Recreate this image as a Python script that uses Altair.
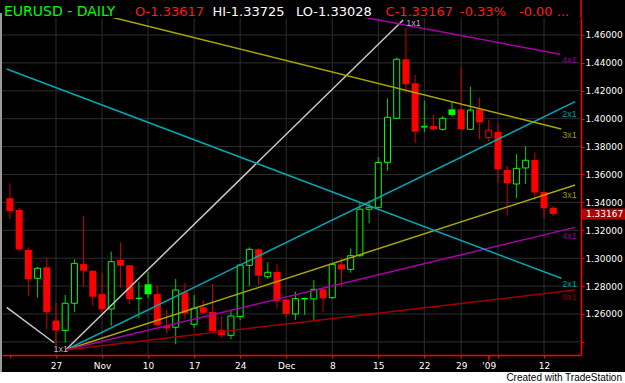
import altair as alt
import pandas as pd

# ---------------- data ----------------
# daily bars, index 0 = Mon Oct 20 2008 ... index 59 = Tue Jan 13 2009
opens = [1.3429, 1.3346, 1.3059, 1.2856, 1.2935, 1.2553, 1.2482, 1.2677, 1.2958, 1.2910,
         1.2743, 1.2636, 1.2987, 1.2949, 1.2710, 1.2813, 1.2743, 1.2514, 1.2505, 1.2756,
         1.2526, 1.2648, 1.2614, 1.2485, 1.2447, 1.2581, 1.2949, 1.3064, 1.2867, 1.2901,
         1.2705, 1.2600, 1.2708, 1.2708, 1.2777, 1.2717, 1.2956, 1.2920, 1.3018, 1.3351,
         1.3365, 1.3687, 1.4003, 1.4426, 1.4254, 1.3940, 1.3948, 1.3924, 1.4067, 1.4067,
         1.3924, 1.4067, 1.3864, 1.3905, 1.3632, 1.3532, 1.3647, 1.3704, 1.3475, 1.33617]
highs = [1.3537, 1.3360, 1.3078, 1.2939, 1.3004, 1.2682, 1.2736, 1.2992, 1.3303, 1.2915,
         1.2892, 1.3047, 1.3114, 1.2951, 1.2832, 1.2903, 1.2801, 1.2629, 1.2851, 1.2824,
         1.2736, 1.2700, 1.2815, 1.2588, 1.2629, 1.2958, 1.3078, 1.3070, 1.2971, 1.2958,
         1.2708, 1.2760, 1.2718, 1.2844, 1.2791, 1.2963, 1.2999, 1.3071, 1.3398, 1.3414,
         1.3725, 1.4146, 1.4440, 1.4650, 1.4313, 1.4129, 1.4027, 1.4019, 1.4122, 1.4373,
         1.4229, 1.4151, 1.3991, 1.3967, 1.3661, 1.3747, 1.3804, 1.3756, 1.3478, 1.33725]
lows = [1.3281, 1.3047, 1.2731, 1.2717, 1.2490, 1.2378, 1.2394, 1.2616, 1.2801, 1.2660,
        1.2591, 1.2516, 1.2789, 1.2672, 1.2569, 1.2713, 1.2510, 1.2462, 1.2383, 1.2564,
        1.2502, 1.2604, 1.2474, 1.2430, 1.2419, 1.2557, 1.2801, 1.2808, 1.2851, 1.2638,
        1.2576, 1.2557, 1.2593, 1.2552, 1.2616, 1.2708, 1.2791, 1.2896, 1.3009, 1.3250,
        1.3360, 1.3627, 1.4000, 1.4182, 1.3824, 1.3903, 1.3919, 1.3914, 1.4014, 1.3923,
        1.3922, 1.3852, 1.3835, 1.3541, 1.3308, 1.3429, 1.3532, 1.3417, 1.3286, 1.33028]
closes = [1.3338, 1.3064, 1.2849, 1.2928, 1.2612, 1.2482, 1.2677, 1.2963, 1.2910, 1.2724,
          1.2634, 1.2975, 1.2946, 1.2708, 1.2713, 1.2741, 1.2519, 1.2497, 1.2772, 1.2605,
          1.2641, 1.2609, 1.2478, 1.2449, 1.2586, 1.2951, 1.3064, 1.2875, 1.2899, 1.2695,
          1.2600, 1.2710, 1.2711, 1.2777, 1.2713, 1.2956, 1.2920, 1.3018, 1.3351, 1.3365,
          1.3686, 1.4010, 1.4426, 1.4247, 1.3907, 1.3946, 1.3924, 1.4003, 1.4027, 1.3926,
          1.4062, 1.3974, 1.3919, 1.3637, 1.3537, 1.3644, 1.3702, 1.3471, 1.3358, 1.33167]

x_tick_index = [0, 5, 10, 15, 20, 25, 30, 35, 40, 45, 49, 52, 53, 58]
x_tick_label = ["", "27", "Nov", "10", "17", "24", "Dec", "8", "15", "22", "29", "'09", "", "12"]
week_grid_index = [5, 10, 15, 20, 25, 30, 35, 40, 45, 49, 53, 58]
year_tick_index = 52
price_levels = [1.24, 1.26, 1.28, 1.30, 1.32, 1.34, 1.36, 1.38, 1.40, 1.42, 1.44, 1.46]

# Gann fan lines (start bar, start price, end bar, end price)
gann_ratio = ["1x1", "2x1", "3x1", "4x1", "8x1", "1x1", "2x1", "3x1", "4x1"]
gann_fan = ["up", "up", "up", "up", "up", "down", "down", "down", "down"]
gann_i0 = [6.05, 6.05, 6.05, 6.05, 6.05, -0.35, -0.35, 10.85, 38.0]
gann_p0 = [1.2342, 1.2342, 1.2342, 1.2342, 1.2342, 1.2648, 1.4356, 1.4731, 1.4733]
gann_i1 = [42.7, 61.37, 61.37, 61.37, 61.37, 4.8, 59.87, 59.87, 59.76]
gann_p1 = [1.4708, 1.4122, 1.3525, 1.3221, 1.2772, 1.2394, 1.2856, 1.3926, 1.4462]

title_symbol = "EURUSD - DAILY"
title_change_pct = "-0.33%"
title_change_abs = "-0.00 ..."

# ---------------- tables ----------------
n = len(opens)
prev_close = [opens[0]] + closes[:-1]
bars = pd.DataFrame({"i": list(range(n)), "open": opens, "high": highs, "low": lows, "close": closes})
bars["dir"] = ["up" if c >= p else "down" for c, p in zip(closes, prev_close)]
bars["hollow"] = [c > o for o, c in zip(opens, closes)]

gann = pd.DataFrame({"ratio": gann_ratio, "fan": gann_fan, "i0": gann_i0, "p0": gann_p0,
                     "i1": gann_i1, "p1": gann_p1})

one = pd.DataFrame({"k": [0]})

XS = alt.Scale(domain=[-0.32, 61.47], nice=False, zero=False)
YS = alt.Scale(domain=[1.230609, 1.472186], nice=False, zero=False)

x_label_expr = "[" + ",".join("'" + s.replace("'", "\\'") + "'" for s in x_tick_label) + "][indexof([" + \
    ",".join(str(v) for v in x_tick_index) + "], datum.value)]"

x_axis = alt.Axis(values=x_tick_index, labelExpr=x_label_expr, title=None, grid=False,
                  domainColor="#ff0000", domainWidth=1.5, tickColor="#ff0000", tickSize=3,
                  tickWidth=1, labelColor="white", labelFont="DejaVu Sans", labelFontSize=9,
                  labelPadding=3, labelOverlap=False, labelFlush=False, orient="bottom")
y_axis = alt.Axis(values=price_levels, labelExpr="datum.value < 1.25 ? '' : format(datum.value, '.5f')",
                  orient="right", title=None, grid=False, domainColor="#ff0000", domainWidth=1.5,
                  tickColor="#ff0000", tickSize=3, tickWidth=1, labelColor="white",
                  labelFont="DejaVu Sans", labelFontSize=9, labelPadding=1, labelBaseline="middle",
                  labelFlush=False, labelOverlap=False)


def X(f):
    return alt.X(f, scale=XS, axis=x_axis)


def Y(f):
    return alt.Y(f, scale=YS, axis=y_axis)


GRID = "#2e2e2e"
grid_h = alt.Chart(pd.DataFrame({"p": price_levels})).mark_rule(color=GRID, strokeWidth=1).encode(y=Y("p:Q"))
grid_v = alt.Chart(pd.DataFrame({"w": week_grid_index})).mark_rule(color=GRID, strokeWidth=1).encode(x=X("w:Q"))

ratio_dom = ["1x1", "2x1", "3x1", "4x1", "8x1"]
line_col = ["#c8c8c8", "#00a8b4", "#a8a800", "#a800a8", "#a00000"]
label_col = ["#b4b4b4", "#009aa4", "#9a9a00", "#9000a0", "#900000"]

gann_lines = alt.Chart(gann).mark_rule(strokeWidth=1.5, clip=True).encode(
    x=X("i0:Q"), y=Y("p0:Q"), x2="i1:Q", y2="p1:Q",
    color=alt.Color("ratio:N", scale=alt.Scale(domain=ratio_dom, range=line_col), legend=None),
)

LAB_I = 59.87
side_labels = alt.Chart(gann).transform_filter("datum.ratio != '1x1'").transform_calculate(
    lx=str(LAB_I),
    ly=f"datum.p0 + (datum.p1 - datum.p0) * ({LAB_I} - datum.i0) / (datum.i1 - datum.i0)",
).mark_text(align="left", baseline="middle", dx=1, dy=5.5, font="Liberation Sans", fontSize=9).encode(
    x=X("lx:Q"), y=Y("ly:Q"), text="ratio:N",
    color=alt.Color("ratio:N", scale=alt.Scale(domain=ratio_dom, range=label_col), legend=None),
)

one_up = alt.Chart(gann).transform_filter("datum.ratio == '1x1' && datum.fan == 'up'")
one_lab_start = one_up.mark_text(align="center", baseline="middle", dx=-5, dy=-1, font="Liberation Sans",
                                 fontSize=9, color="#b4b4b4").encode(x=X("i0:Q"), y=Y("p0:Q"), text="ratio:N")
one_lab_end = one_up.mark_text(align="left", baseline="middle", dx=3, dy=3, font="Liberation Sans",
                               fontSize=9, color="#b4b4b4").encode(x=X("i1:Q"), y=Y("p1:Q"), text="ratio:N")

base = alt.Chart(bars)
wicks = base.mark_rule(strokeWidth=1).encode(
    x=X("i:Q"), y=Y("low:Q"), y2="high:Q",
    color=alt.Color("dir:N", scale=alt.Scale(domain=["up", "down"], range=["#00d000", "#d00000"]), legend=None),
)
filled = base.transform_filter("!datum.hollow").mark_bar(size=7).encode(
    x=X("i:Q"), y=Y("open:Q"), y2="close:Q",
    color=alt.Color("dir:N", scale=alt.Scale(domain=["up", "down"], range=["#00ff00", "#ff0000"]), legend=None),
)
hollow = base.transform_filter("datum.hollow").mark_bar(size=6, fill="black", strokeWidth=1).encode(
    x=X("i:Q"), y=Y("open:Q"), y2="close:Q",
    stroke=alt.Stroke("dir:N", scale=alt.Scale(domain=["up", "down"], range=["#00ff00", "#ff0000"]), legend=None),
)

# last price marker on the right axis
last_box = alt.Chart(one).mark_tick(orient="horizontal", size=44, thickness=11, color="#ff0000", clip=False).encode(
    y=Y("v:Q"), x=alt.value(601)).transform_calculate(v=str(closes[-1]))
last_txt = alt.Chart(one).mark_text(align="left", baseline="middle", font="DejaVu Sans", fontSize=9,
                                    color="white").encode(
    y=Y("v:Q"), x=alt.value(584), text=alt.value(f"{closes[-1]:.5f}")).transform_calculate(v=str(closes[-1]))

year_tick = alt.Chart(one).mark_rule(color="#ff0000", strokeWidth=1).encode(
    x=X("t:Q"), y=alt.value(337), y2=alt.value(343)).transform_calculate(t=str(year_tick_index))
top_axis_ext = alt.Chart(one).mark_rule(color="#ff0000", strokeWidth=1.5).encode(
    x=alt.value(579), y=alt.value(-18), y2=alt.value(0))
left_border = alt.Chart(one).mark_rule(color="#9a9a9a", strokeWidth=2).encode(
    x=alt.value(-1), y=alt.value(-5), y2=alt.value(354))
white_strip = alt.Chart(one).mark_rect(color="white").encode(
    x=alt.value(-2), x2=alt.value(623), y=alt.value(354), y2=alt.value(365))
credit = alt.Chart(one).mark_text(align="right", baseline="alphabetic", font="Liberation Sans", fontSize=10,
                                  color="black").encode(x=alt.value(620), y=alt.value(363),
                                                        text=alt.value("Created with TradeStation"))


def title_piece(txt, xpos, col, size=13):
    return alt.Chart(one).mark_text(align="left", baseline="alphabetic", font="DejaVu Sans", fontSize=size,
                                    color=col).encode(x=alt.value(xpos), y=alt.value(-2.5), text=alt.value(txt))


titles = [
    title_piece(title_symbol, 2, "#00ff00", 14),
    title_piece(f"O-{opens[-1]:.5f}", 133, "#ff1a1a"),
    title_piece(f"HI-{highs[-1]:.5f}", 210.5, "white"),
    title_piece(f"LO-{lows[-1]:.5f}", 294, "white"),
    title_piece(f"C-{closes[-1]:.5f}", 383.4, "#ff1a1a"),
    title_piece(title_change_pct, 458, "#ff1a1a"),
    title_piece(title_change_abs, 517, "#ff1a1a"),
]

chart = alt.layer(
    grid_h, grid_v, wicks, filled, hollow, gann_lines, side_labels, one_lab_start, one_lab_end,
    last_box, last_txt, year_tick, top_axis_ext, left_border, white_strip, credit, *titles
).resolve_scale(color="independent", stroke="independent").properties(
    width=579, height=337,
    padding={"left": 2, "top": 18, "right": 44, "bottom": 28},
    autosize=alt.AutoSizeParams(type="none"),
    background="black",
).configure_view(strokeWidth=0)

chart.save("out.html", embed_options={"renderer": "svg", "actions": False})
